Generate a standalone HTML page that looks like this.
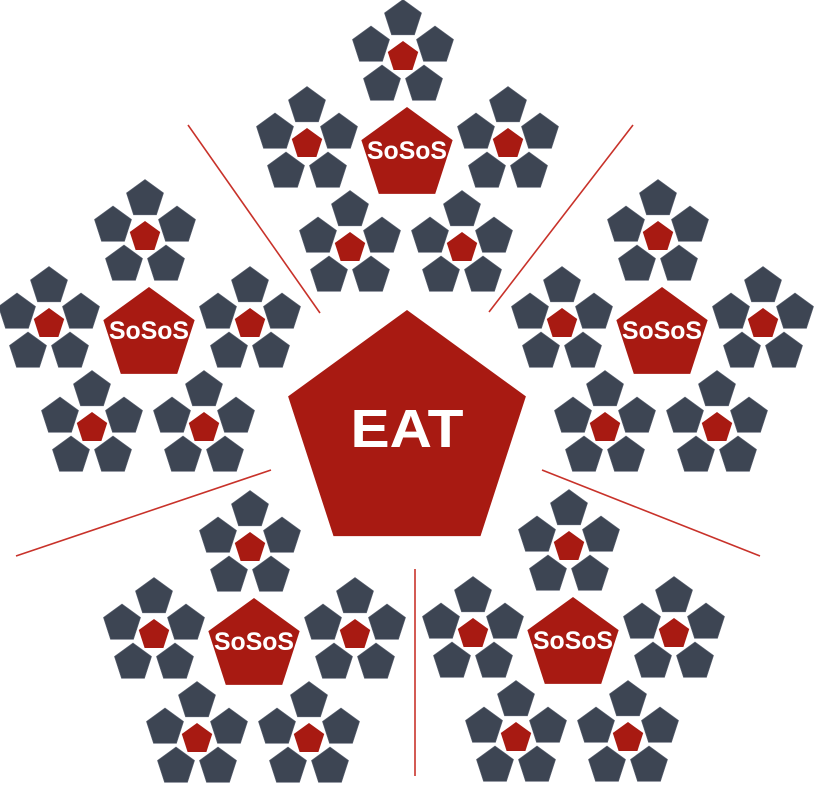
<!DOCTYPE html>
<html><head><meta charset="utf-8"><style>html,body{margin:0;padding:0;background:#fff}svg{display:block}</style></head>
<body>
<svg width="815" height="786" viewBox="0 0 815 786" xmlns="http://www.w3.org/2000/svg">
<defs>
<polygon id="d" points="0,-19.5 18.55,-6.03 11.46,15.78 -11.46,15.78 -18.55,-6.03" fill="#3d4553" stroke="#5a6170" stroke-width="0.6"/>
<polygon id="r" points="0,-16 15.22,-4.94 9.4,12.94 -9.4,12.94 -15.22,-4.94" fill="#a81a12"/>
<g id="f">
<use href="#r"/>
<use href="#d" x="0" y="-38"/>
<use href="#d" x="-32" y="-11.5"/>
<use href="#d" x="32" y="-11.5"/>
<use href="#d" x="-21" y="27.5"/>
<use href="#d" x="21" y="27.5"/>
</g>
<g id="c">
<polygon points="0,-48 45.65,-14.83 28.22,38.83 -28.22,38.83 -45.65,-14.83" fill="#a81a12"/>
<use href="#f" x="-4" y="-98"/>
<use href="#f" x="-100" y="-11"/>
<use href="#f" x="101" y="-11"/>
<use href="#f" x="-57" y="93"/>
<use href="#f" x="55" y="93"/>
</g>
</defs>
<g stroke="#c8322a" stroke-width="1.6">
<line x1="188" y1="125" x2="320" y2="313"/>
<line x1="633" y1="125" x2="489" y2="312"/>
<line x1="16" y1="556" x2="271" y2="470"/>
<line x1="542" y1="470" x2="760" y2="556"/>
<line x1="415" y1="569" x2="415" y2="776"/>
</g>
<polygon points="407,310 525.9,396.4 480.5,536.1 333.5,536.1 288.1,396.4" fill="#a81a12"/>
<text x="407" y="447" font-family="Liberation Sans, sans-serif" font-weight="bold" font-size="54" fill="#fff" text-anchor="middle" textLength="113" lengthAdjust="spacingAndGlyphs">EAT</text>
<use href="#c" x="407" y="155"/>
<use href="#c" x="149" y="335"/>
<use href="#c" x="662" y="335"/>
<use href="#c" x="254" y="646"/>
<use href="#c" x="573" y="645"/>
<g font-family="Liberation Sans, sans-serif" font-weight="bold" font-size="25" fill="#fff" text-anchor="middle">
<text x="407" y="159" textLength="80" lengthAdjust="spacingAndGlyphs">SoSoS</text>
<text x="149" y="339" textLength="80" lengthAdjust="spacingAndGlyphs">SoSoS</text>
<text x="662" y="339" textLength="80" lengthAdjust="spacingAndGlyphs">SoSoS</text>
<text x="254" y="650" textLength="80" lengthAdjust="spacingAndGlyphs">SoSoS</text>
<text x="573" y="649" textLength="80" lengthAdjust="spacingAndGlyphs">SoSoS</text>
</g>
</svg>
</body></html>
